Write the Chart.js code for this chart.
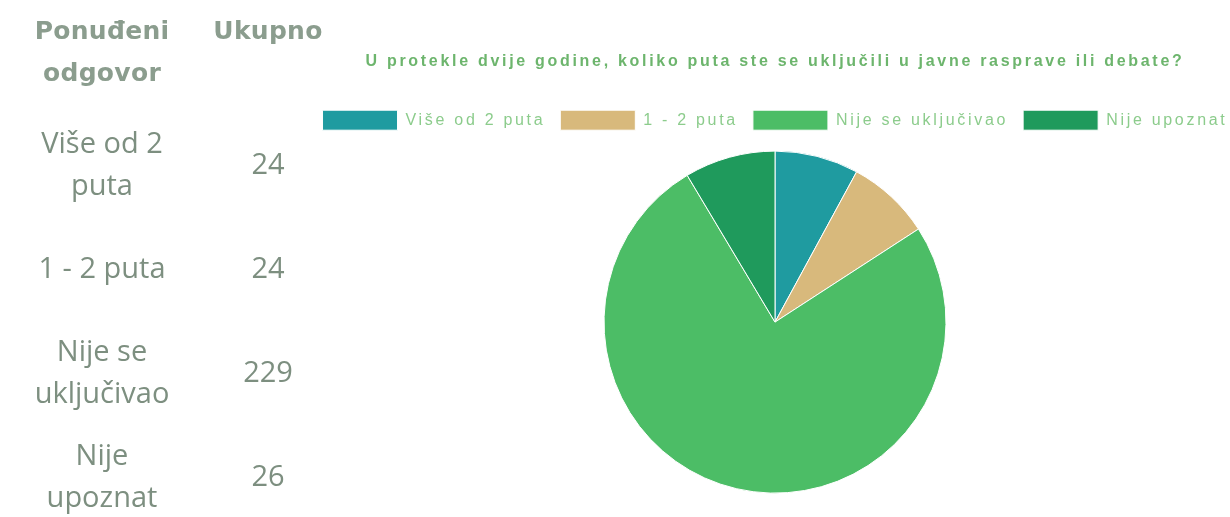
<!DOCTYPE html>
<html>
<head>
<meta charset="utf-8">
<script src="https://cdn.jsdelivr.net/npm/chart.js@4"></script>
<style>
  body { margin: 0; width: 1230px; height: 517px; background: #fff; overflow: hidden; position: relative; }
  #tbl { position: absolute; left: 22px; top: 10px; border-collapse: collapse; font-family: "Open Sans", sans-serif; color: #7d8f80; z-index: 1; }
  #tbl th { font-family: "DejaVu Sans", sans-serif; font-weight: bold; font-size: 25px; letter-spacing: 0.3px; color: #8b9d8e; line-height: 42px; vertical-align: top; height: 101px; padding: 0; }
  #tbl td { font-size: 29px; line-height: 42px; text-align: center; height: 104px; padding: 0; }
  #tbl .c1 { width: 160px; }
  #tbl .c2 { width: 172px; }
  #wrap { position: absolute; left: 270px; top: 0; width: 1010px; height: 517px; }
</style>
</head>
<body>
<table id="tbl"><thead><tr><th class="c1">Ponuđeni<br>odgovor</th><th class="c2">Ukupno</th></tr></thead><tbody></tbody></table>
<div id="wrap"><canvas id="pie"></canvas></div>
<script>
const answers = ["Više od 2 puta", "1 - 2 puta", "Nije se uključivao", "Nije upoznat"];
const rowLabels = ["Više od 2<br>puta", "1 - 2 puta", "Nije se<br>uključivao", "Nije<br>upoznat"];
const totals = [24, 24, 229, 26];
const colors = ["#1f9ba0", "#d8b97c", "#4cbd66", "#1f9a5c"];
const title = "U protekle dvije godine, koliko puta ste se uključili u javne rasprave ili debate?";

const body = document.querySelector("#tbl tbody");
rowLabels.forEach((lab, i) => {
  const tr = document.createElement("tr");
  tr.innerHTML = "<td>" + lab + "</td><td>" + totals[i] + "</td>";
  body.appendChild(tr);
});

// the reference text is wide, so space the letters out a bit
const spacing = {
  id: "spacing",
  beforeUpdate(chart) { chart.ctx.letterSpacing = "2.7px"; },
  beforeLayout(chart) { chart.ctx.letterSpacing = "2.7px"; },
  beforeDraw(chart) { chart.ctx.letterSpacing = "2.7px"; }
};

new Chart(document.getElementById("pie"), {
  type: "pie",
  data: {
    labels: answers,
    datasets: [{ data: totals, backgroundColor: colors, borderColor: "#ffffff", borderWidth: 1, radius: 171 }]
  },
  options: {
    responsive: true,
    maintainAspectRatio: false,
    animation: false,
    layout: { padding: { bottom: 13 } },
    plugins: {
      title: {
        display: true,
        text: title,
        color: "#6db56d",
        font: { family: "Liberation Sans", size: 16, weight: "bold" },
        padding: { top: 52, bottom: 24 }
      },
      legend: {
        position: "top",
        labels: {
          boxWidth: 75,
          boxHeight: 20,
          padding: 15,
          color: "#8ccc8c",
          font: { family: "Liberation Sans", size: 16 }
        }
      },
      tooltip: { enabled: false }
    }
  },
  plugins: [spacing]
});
</script>
</body>
</html>
